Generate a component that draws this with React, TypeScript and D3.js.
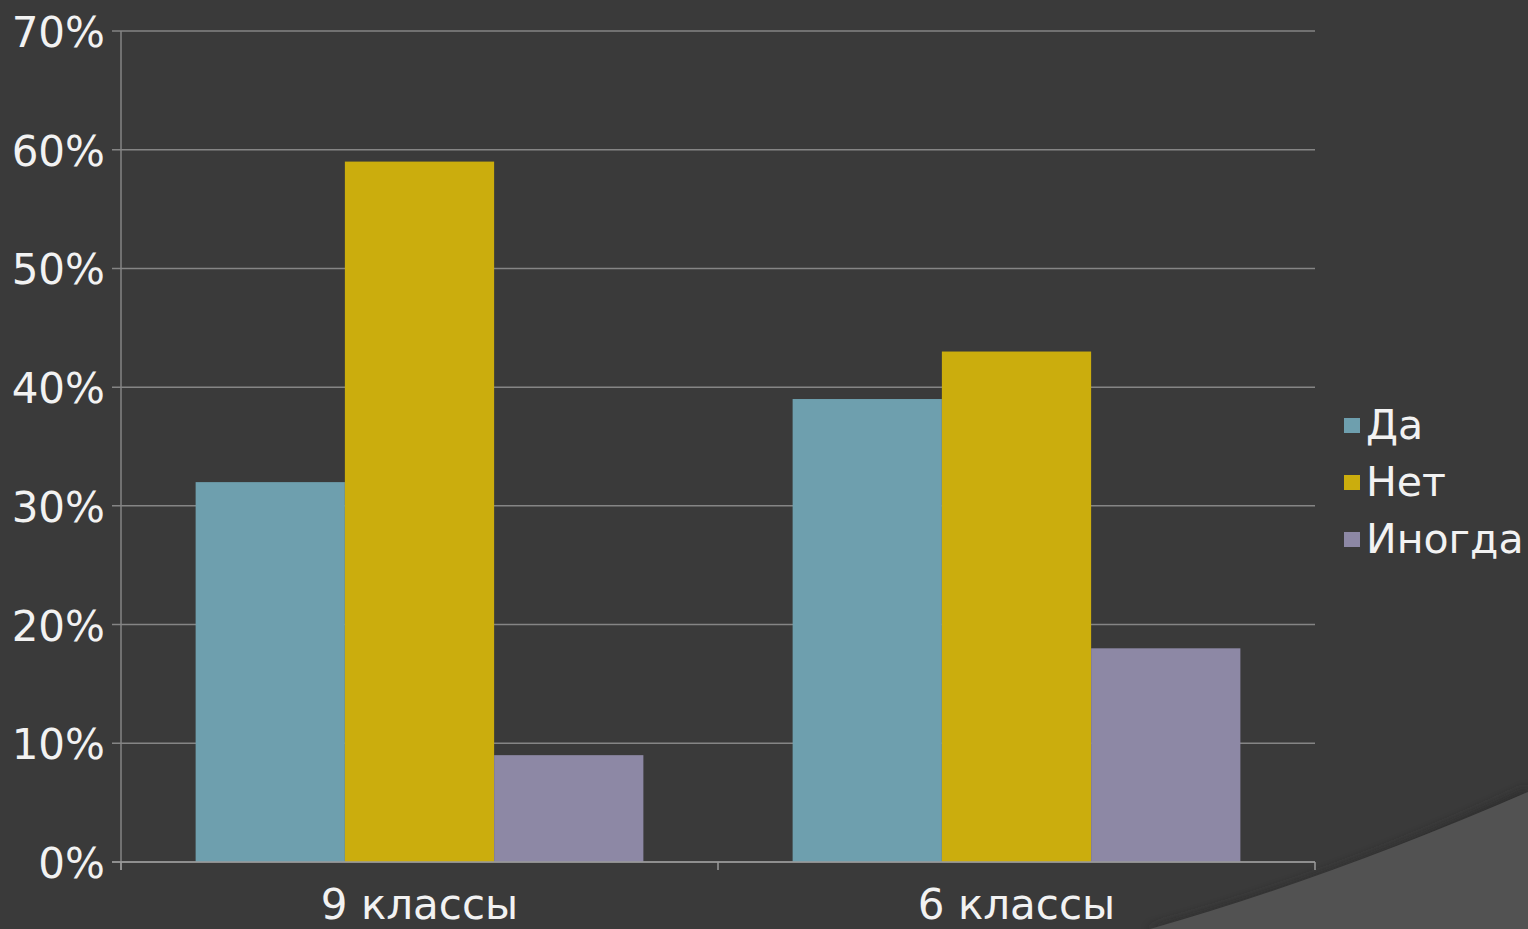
import React from "react";
import * as d3 from "d3";

const categories = ["9 классы", "6 классы"];
const seriesNames = ["Да", "Нет", "Иногда"];
const seriesColors = ["#6e9fae", "#cbad0d", "#8d88a5"];
const valuesDa = [0.32, 0.39];
const valuesNet = [0.59, 0.43];
const valuesInogda = [0.09, 0.18];
const yTicks = [0, 0.1, 0.2, 0.3, 0.4, 0.5, 0.6, 0.7];

const W = 1528;
const H = 929;

export default function App() {
  const series = [valuesDa, valuesNet, valuesInogda];
  const x0 = d3.scaleBand<string>().domain(categories).range([121, 1315]).padding(0);
  const x1 = d3
    .scaleBand<string>()
    .domain(seriesNames)
    .range([0, x0.bandwidth()])
    .paddingOuter(0.5)
    .paddingInner(0);
  const y = d3.scaleLinear().domain([0, 0.7]).range([862, 31]);
  const fmt = d3.format(".0%");
  const font = "'DejaVu Sans', Verdana, sans-serif";

  return (
    <svg
      width={W}
      height={H}
      style={{ position: "absolute", left: 0, top: 0, display: "block" }}
    >
      <defs>
        <filter id="blur" x="-10%" y="-10%" width="120%" height="120%">
          <feGaussianBlur stdDeviation="5" />
        </filter>
      </defs>
      <rect x={0} y={0} width={W} height={H} fill="#3a3a3a" />
      {/* decorative corner */}
      <path
        d="M1146,929 Q1330,880 1528,788 L1528,929 Z"
        fill="#2a2a2a"
        filter="url(#blur)"
        opacity={0.8}
      />
      <path d="M1150,929 Q1330,878 1528,792 L1528,929 Z" fill="#525252" />

      {/* gridlines */}
      {yTicks.map((t) => (
        <line
          key={t}
          x1={112}
          x2={1315}
          y1={y(t)}
          y2={y(t)}
          stroke="#858585"
          strokeWidth={1.5}
        />
      ))}
      {/* y axis */}
      <line x1={121} x2={121} y1={31} y2={870} stroke="#858585" strokeWidth={1.5} />

      {/* bars */}
      {categories.map((c, ci) => (
        <g key={c} transform={`translate(${x0(c)},0)`}>
          {seriesNames.map((s, si) => (
            <rect
              key={s}
              x={x1(s)}
              width={x1.bandwidth()}
              y={y(series[si][ci])}
              height={y(0) - y(series[si][ci])}
              fill={seriesColors[si]}
            />
          ))}
        </g>
      ))}

      {/* x axis */}
      <line x1={112} x2={1315} y1={862} y2={862} stroke="#9a9a9a" strokeWidth={1.5} />
      {[...categories.map((c) => x0(c) as number), 1315].map((v, i) => (
        <line key={i} x1={v} x2={v} y1={862} y2={870} stroke="#9a9a9a" strokeWidth={1.5} />
      ))}

      {/* y tick labels */}
      {yTicks.map((t) => (
        <text
          key={t}
          x={105}
          y={y(t) + 16}
          textAnchor="end"
          fill="#f2f2f2"
          fontFamily={font}
          fontSize={42}
        >
          {fmt(t)}
        </text>
      ))}

      {/* x labels */}
      {categories.map((c) => (
        <text
          key={c}
          x={(x0(c) as number) + x0.bandwidth() / 2}
          y={919}
          textAnchor="middle"
          fill="#f2f2f2"
          fontFamily={font}
          fontSize={42}
        >
          {c}
        </text>
      ))}

      {/* legend */}
      {seriesNames.map((s, i) => (
        <g key={s} transform={`translate(1344, ${418 + i * 57})`}>
          <rect x={0} y={0} width={16} height={15} fill={seriesColors[i]} />
          <text
            x={22}
            y={21}
            fill="#f2f2f2"
            fontFamily={font}
            fontSize={41}
          >
            {s}
          </text>
        </g>
      ))}
    </svg>
  );
}
